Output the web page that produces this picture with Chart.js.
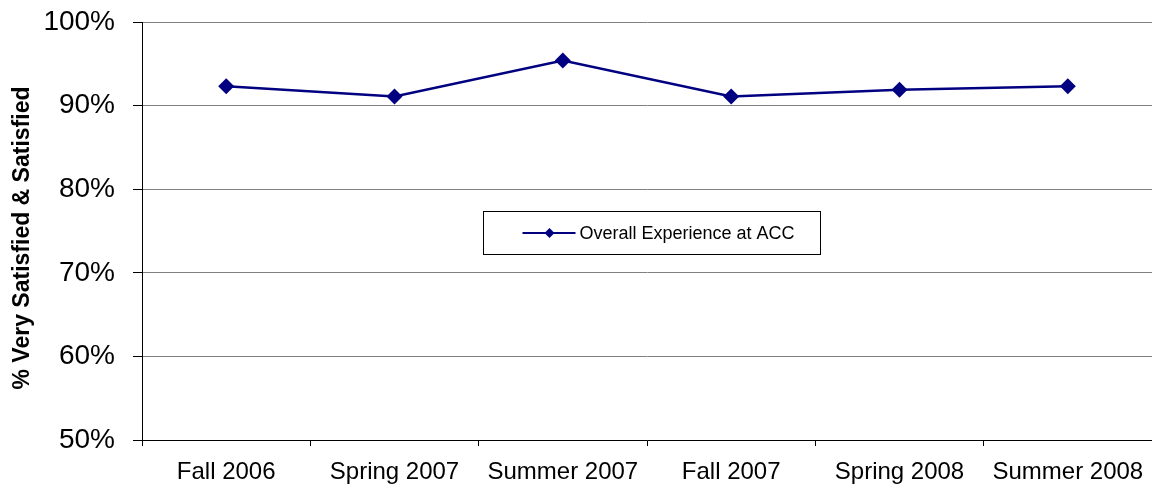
<!DOCTYPE html>
<html>
<head>
<meta charset="utf-8">
<script src="https://cdn.jsdelivr.net/npm/chart.js@4"></script>
<style>
  html, body { margin: 0; padding: 0; background: #fff; }
  #wrap { width: 1152px; height: 492px; position: relative; }
</style>
</head>
<body>
<div id="wrap"><canvas id="chart"></canvas></div>
<script>
const terms = ['Fall 2006', 'Spring 2007', 'Summer 2007', 'Fall 2007', 'Spring 2008', 'Summer 2008'];
const overall = [92.3, 91.1, 95.4, 91.1, 91.9, 92.3];
const seriesName = 'Overall Experience at ACC';
const yTitle = '% Very Satisfied & Satisfied';
const yMin = 50;
const yMax = 100;
const yStep = 10;

const navy = '#000080';
const font = 'Arial, "Liberation Sans", sans-serif';

// legend box sits inside the plot area, like the spreadsheet original
const boxLegend = {
  id: 'boxLegend',
  afterDraw(chart) {
    const { ctx, chartArea: a } = chart;
    const ds = chart.data.datasets[0];
    const x = 483.5;
    const y = Math.round(a.top + a.height * 0.452) + 0.5;
    const w = 337, h = 43;
    ctx.save();
    ctx.fillStyle = '#fff';
    ctx.fillRect(x, y, w, h);
    ctx.strokeStyle = '#000';
    ctx.lineWidth = 1;
    ctx.strokeRect(x, y, w, h);
    const cy = y + h / 2;
    ctx.strokeStyle = ds.borderColor;
    ctx.lineWidth = 2;
    ctx.beginPath();
    ctx.moveTo(x + 39, cy);
    ctx.lineTo(x + 92, cy);
    ctx.stroke();
    ctx.fillStyle = ds.pointBackgroundColor;
    Chart.helpers.drawPoint(ctx, { pointStyle: 'rectRot', radius: 5, borderWidth: 0 }, x + 66, cy);
    ctx.fillStyle = '#000';
    ctx.font = '18px ' + font;
    ctx.textBaseline = 'middle';
    ctx.fillText(ds.label, x + 96, cy + 1);

    // rotated axis title
    ctx.translate(23, 238);
    ctx.rotate(-Math.PI / 2);
    ctx.font = 'bold 23px ' + font;
    ctx.textAlign = 'center';
    ctx.fillText(yTitle, 0, 0);
    ctx.restore();
  }
};

new Chart(document.getElementById('chart'), {
  type: 'line',
  data: {
    labels: terms,
    datasets: [{
      label: seriesName,
      data: overall,
      borderColor: navy,
      borderWidth: 2.5,
      pointStyle: 'rectRot',
      pointRadius: 8,
      pointBackgroundColor: navy,
      pointBorderColor: navy,
      pointBorderWidth: 0,
      tension: 0
    }]
  },
  options: {
    responsive: true,
    maintainAspectRatio: false,
    animation: false,
    layout: { autoPadding: false, padding: { top: 22, right: -2, left: 0, bottom: 0 } },
    scales: {
      x: {
        offset: true,
        grid: { offset: true, drawOnChartArea: false, drawTicks: true, tickLength: 6, color: '#000' },
        border: { color: '#000', width: 1 },
        ticks: { color: '#000', padding: 12, maxRotation: 0, font: { family: font, size: 24 } },
        afterFit(scale) {
          scale.height = 52;
          scale.paddingLeft = 0;
          scale.paddingRight = 0;
        }
      },
      y: {
        min: yMin,
        max: yMax,
        ticks: {
          stepSize: yStep,
          color: '#000',
          padding: 18,
          font: { family: font, size: 28 },
          callback: v => v + '%'
        },
        grid: { color: '#808080', tickColor: '#000', tickLength: 9 },
        border: { color: '#000', width: 1 },
        afterFit(scale) {
          scale.width = 142;
          scale.paddingTop = 0;
          scale.paddingBottom = 0;
        }
      }
    },
    plugins: {
      legend: { display: false },
      tooltip: { enabled: false }
    }
  },
  plugins: [boxLegend]
});
</script>
</body>
</html>
